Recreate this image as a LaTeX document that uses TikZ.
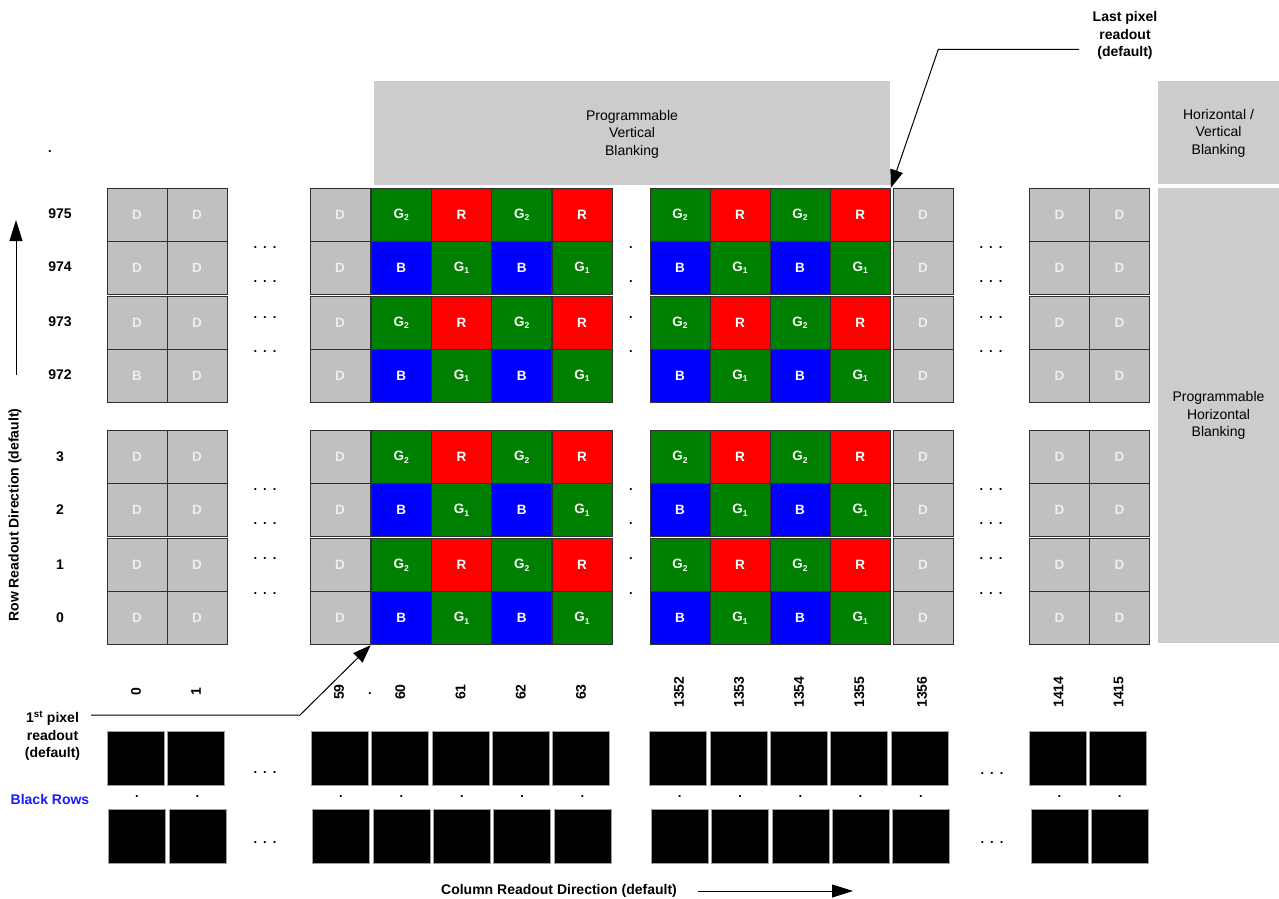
\documentclass[tikz,border=0pt]{standalone}
\usepackage{fontspec}
\setmainfont{Liberation Sans}
\usetikzlibrary{arrows.meta}
\definecolor{dgray}{HTML}{C0C0C0}
\definecolor{blankgray}{HTML}{CCCCCC}
\definecolor{pgreen}{HTML}{008000}
\definecolor{pred}{HTML}{FF0000}
\definecolor{pblue}{HTML}{0000FF}
\definecolor{dtext}{HTML}{EEEEEE}
\definecolor{cellline}{HTML}{303030}
\definecolor{boxline}{HTML}{A0A0A0}
\definecolor{labelblue}{HTML}{1A1AFF}
\newcommand{\Gsub}[1]{G\raisebox{-0.35ex}{\fontsize{8.5}{8.5}\selectfont #1}}
\begin{document}
\begin{tikzpicture}[x=1pt,y=-1pt,
  cell/.style={draw=cellline, line width=1pt, minimum width=60pt, minimum height=53pt, inner sep=0pt, text=white, font=\fontsize{13.5}{13.5}\selectfont\bfseries},
  dcell/.style={cell, fill=dgray, text=dtext},
  gcell/.style={cell, fill=pgreen},
  rcell/.style={cell, fill=pred},
  bcell/.style={cell, fill=pblue},
  blk/.style={draw=boxline, fill=black, line width=0.8pt, minimum width=57pt, minimum height=54pt, inner sep=0pt},
  lbl/.style={font=\fontsize{14}{17.5}\selectfont\bfseries, inner sep=0pt, align=center},
  blanklbl/.style={font=\fontsize{14}{17.5}\selectfont, align=center, inner sep=0pt},
  blankbox/.style={fill=blankgray, inner sep=0pt},
  ell/.style={font=\fontsize{13}{13}\selectfont\bfseries, inner sep=0pt, anchor=base},
  conn/.style={line width=1pt, -{Triangle[length=18pt,width=13pt]}},
  dirarrow/.style={line width=1pt, -{Triangle[length=21pt,width=13pt]}}
]
\useasboundingbox (0,0) rectangle (1279,899);

% blanking regions
\node[blankbox, minimum width=516pt, minimum height=104pt] (vb) at (632,133) {};
\node[blanklbl] (vbt) at ([yshift=-1pt]vb.center) {Programmable\\Vertical\\Blanking};
\node[blankbox, minimum width=121pt, minimum height=102.5pt] (hvb) at (1218.5,132.25) {};
\node[blanklbl] (hvbt) at ([yshift=-1pt]hvb.center) {Horizontal /\\Vertical\\Blanking};
\node[blankbox, minimum width=121pt, minimum height=455pt] (hb) at (1218.5,415.5) {};
\node[blanklbl] (hbt) at (hb.center) {Programmable\\Horizontal\\Blanking};

% dark (D) columns
\foreach \r/\y in {975/214.8, 974/267.8, 973/322.8, 972/375.8, 3/457.2, 2/510.2, 1/565.2, 0/618.2}{
  \foreach \c/\x in {0/137, 1/197, 59/340, 1356/923, 1414/1059.5, 1415/1119.5}{
    \def\txt{D}
    \ifnum\r=972 \ifnum\c=0 \def\txt{B}\fi\fi
    \node[dcell] (c-\r-\c) at (\x,\y) {\txt};
  }
}
% colour columns (t: 0 = G2/R row, 1 = B/G1 row)
\foreach \r/\y/\t in {975/214.8/0, 974/267.8/1, 973/322.8/0, 972/375.8/1, 3/457.2/0, 2/510.2/1, 1/565.2/0, 0/618.2/1}{
  \foreach \c/\x/\p in {60/401.2/0, 61/461.5/1, 62/521.8/0, 63/582.1/1, 1352/680/0, 1353/740/1, 1354/800.1/0, 1355/860.3/1}{
    \ifnum\t=0
      \ifodd\p \node[rcell] (c-\r-\c) at (\x,\y) {R};
      \else \node[gcell] (c-\r-\c) at (\x,\y) {\Gsub{2}};
      \fi
    \else
      \ifodd\p \node[gcell] (c-\r-\c) at (\x,\y) {\Gsub{1}};
      \else \node[bcell] (c-\r-\c) at (\x,\y) {B};
      \fi
    \fi
  }
}

% row labels
\foreach \r/\y in {975/214.8, 974/267.8, 973/322.8, 972/375.8, 3/457.2, 2/510.2, 1/565.2, 0/618.2}{
  \node[lbl] (row-\r) at (60,\y-1) {\r};
}
\node[ell] (rowdots) at (50,152) {.};

% ellipses inside the pixel array
\foreach \y [count=\i] in {247, 281, 317, 351, 489, 523, 558, 593}{
  \node[ell] (el-\i) at (265,\y+1.5) {.\hspace{6pt}.\hspace{6pt}.};
  \node[ell] (er-\i) at (991,\y+1.5) {.\hspace{6pt}.\hspace{6pt}.};
  \node[ell] (em-\i) at (631,\y+1.5) {.};
}

% column labels
\foreach \c/\x in {0/136, 1/196, 59/339, 60/400.2, 61/460.5, 62/520.8, 63/581.1, 1352/679, 1353/739, 1354/799, 1355/859.3, 1356/922, 1414/1058.5, 1415/1118.5}{
  \node[lbl, rotate=90] (col-\c) at (\x,692) {\c};
}
\node[ell] (coldot) at (370,694) {.};

% black rows
\foreach \c/\x in {0/135.7, 1/196.2, 59/339.7, 60/400, 61/460.5, 62/520.8, 63/581.2, 1352/678.3, 1353/738.8, 1354/799, 1355/859.2, 1356/919.5, 1414/1058, 1415/1118.3}{
  \node[blk] (ba-\c) at (\x,758) {};
  \node[blk] (bb-\c) at (\x+1.5,836.3) {};
  \node[ell] (bd-\c) at (\x+1.3,797) {.};
}
\node[ell] (bel-1) at (265,773.5) {.\hspace{6pt}.\hspace{6pt}.};
\node[ell] (bel-2) at (265,843.5) {.\hspace{6pt}.\hspace{6pt}.};
\node[ell] (ber-1) at (992,774.5) {.\hspace{6pt}.\hspace{6pt}.};
\node[ell] (ber-2) at (992,843.5) {.\hspace{6pt}.\hspace{6pt}.};
\node[lbl, text=labelblue] (blackrows) at (50,799) {Black Rows};

% first / last pixel annotations
\node[lbl] (first) at (52.5,736) {1\textsuperscript{st} pixel\\readout\\(default)};
\coordinate (fs) at (91,715);
\coordinate (fb) at (300,715);
\draw[conn] (fs) -- (fb) -- (c-0-60.south west);

\node[lbl] (last) at (1125,35.5) {Last pixel\\readout\\(default)};
\coordinate (ls) at (1079,49.3);
\coordinate (lb) at (938.3,49.3);
\draw[conn] (ls) -- (lb) -- (c-975-1355.north east);

% readout directions
\node[lbl, rotate=90] (rowdir) at (15,515) {Row Readout Direction (default)};
\coordinate (rds) at (16,375);
\coordinate (rde) at (16,220);
\draw[dirarrow] (rds) -- (rde);

\node[lbl] (coldir) at (559,890.5) {Column Readout Direction (default)};
\coordinate (cds) at (698,891);
\coordinate (cde) at (853,891);
\draw[dirarrow] (cds) -- (cde);
\end{tikzpicture}
\end{document}
